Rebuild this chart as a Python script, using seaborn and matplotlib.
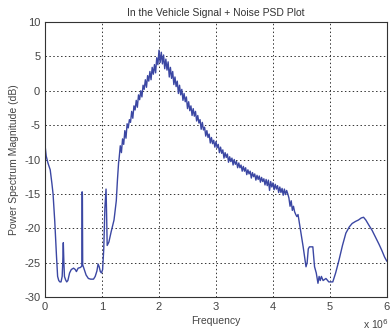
import matplotlib
matplotlib.use("Agg")
import matplotlib.pyplot as plt
import seaborn as sns
import numpy as np
import pandas as pd

title = "In the Vehicle Signal + Noise PSD Plot"
xlabel = "Frequency"
ylabel = "Power Spectrum Magnitude (dB)"
x_ticks = [0, 1, 2, 3, 4, 5, 6]
y_ticks = [-30, -25, -20, -15, -10, -5, 0, 5, 10]

# low-frequency section (x in units of 1e6)
freq_low = [0.00, 0.02, 0.05, 0.09, 0.12, 0.14, 0.17, 0.20, 0.22, 0.24, 0.26, 0.28, 0.30, 0.31, 0.32,
            0.33, 0.34, 0.36, 0.38, 0.40, 0.43, 0.46, 0.50, 0.53, 0.55, 0.58, 0.62, 0.645, 0.65, 0.655,
            0.66, 0.68, 0.72, 0.76, 0.80, 0.85, 0.88, 0.91, 0.93, 0.95, 0.97, 0.99, 1.01, 1.03, 1.05,
            1.07, 1.08, 1.09, 1.12, 1.16, 1.21, 1.25, 1.27, 1.29]
psd_low = [-8.0, -9.5, -10.5, -11.5, -13.5, -15.0, -19.0, -24.0, -27.0, -27.6, -27.8, -27.8, -27.0, -25.0, -22.1,
           -25.0, -27.0, -27.5, -27.8, -27.6, -26.5, -26.0, -25.8, -26.0, -26.3, -25.8, -25.7, -25.5, -14.7, -15.0,
           -25.3, -25.8, -26.8, -27.3, -27.4, -27.4, -27.0, -26.2, -25.2, -25.6, -26.3, -26.5, -26.0, -23.0, -17.0,
           -14.3, -18.0, -22.5, -22.0, -20.5, -18.8, -16.0, -13.0, -10.5]

# noisy main lobe, 1.30 .. 4.48 in steps of 0.02
freq_mid_start = 1.30
psd_mid = [-9.8, -8.0, -9.0, -7.0, -7.8, -5.8, -6.9, -4.8, -5.4, -4.2,
           -4.6, -3.0, -4.0, -2.2, -2.8, -1.4, -2.4, -0.6, -1.3, 0.0,
           -0.9, 0.8, 0.2, 1.6, 0.5, 2.2, 1.4, 2.8, 1.6, 3.4,
           2.4, 3.8, 2.6, 4.8, 3.8, 5.9, 4.1, 5.6, 3.9, 5.2,
           3.2, 4.6, 3.0, 4.2, 2.0, 3.4, 1.8, 2.8, 0.9, 2.0,
           0.6, 1.4, -0.4, 0.8, -0.6, 0.2, -1.4, -0.4, -1.6, -0.9,
           -2.6, -1.6, -2.9, -2.2, -3.6, -2.6, -3.7, -3.0, -4.4, -3.6,
           -4.7, -4.2, -5.6, -4.6, -5.7, -5.3, -6.6, -5.8, -6.8, -6.3,
           -7.6, -6.8, -7.7, -7.2, -8.2, -7.4, -8.3, -7.8, -9.0, -8.2,
           -9.1, -8.6, -9.8, -9.0, -9.7, -9.2, -10.4, -9.6, -10.3, -9.8,
           -10.8, -10.0, -10.7, -10.3, -11.2, -10.5, -11.2, -10.8, -11.7, -11.0,
           -11.7, -11.2, -12.2, -11.5, -12.1, -11.7, -12.7, -11.9, -12.5, -12.1,
           -13.0, -12.3, -12.9, -12.4, -13.3, -12.6, -13.2, -12.8, -13.7, -12.9,
           -13.8, -13.0, -14.5, -13.2, -14.0, -13.4, -14.4, -13.6, -14.3, -13.8,
           -14.8, -14.0, -14.8, -14.2, -15.2, -14.3, -15.1, -14.5, -15.0, -15.6,
           -16.8, -16.0, -17.4, -16.8, -17.6, -18.0, -18.3, -18.0]

# high-frequency section
freq_high = [4.53, 4.58, 4.60, 4.62, 4.64, 4.70, 4.73, 4.76, 4.79, 4.81, 4.83, 4.85, 4.88, 4.93, 4.98,
             5.05, 5.10, 5.16, 5.22, 5.28, 5.34, 5.39, 5.45, 5.50, 5.55, 5.59, 5.63, 5.68, 5.74, 5.80,
             5.86, 5.91, 5.96, 6.00]
psd_high = [-22.7, -25.6, -25.0, -23.0, -22.7, -22.7, -25.6, -26.5, -28.0, -27.0, -27.6, -27.0, -27.6, -27.3, -27.8,
            -27.8, -26.5, -24.6, -22.5, -20.7, -19.8, -19.3, -19.0, -18.8, -18.5, -18.4, -18.8, -19.5, -20.3, -21.3,
            -22.3, -23.2, -24.2, -24.8]

freq_mid = [round(freq_mid_start + 0.02 * i, 2) for i in range(len(psd_mid))]
freq = freq_low + freq_mid + freq_high
psd = psd_low + psd_mid + psd_high
df = pd.DataFrame({"Frequency": freq, "PSD": psd})

sns.set_style("white")
plt.rcParams['font.family'] = ['Liberation Sans', 'DejaVu Sans']

fig = plt.figure(figsize=(3.92, 3.33), dpi=100)
ax = fig.add_axes([0.115, 0.108, 0.872, 0.826])
sns.lineplot(data=df, x="Frequency", y="PSD", sort=False, estimator=None,
             color="#3b47a3", linewidth=1.0, ax=ax)

ax.set_xlim(0, 6)
ax.set_ylim(-30, 10)
ax.set_xticks(x_ticks)
ax.set_yticks(y_ticks)
ax.set_xticklabels([str(t) for t in x_ticks])
ax.set_yticklabels([str(t) for t in y_ticks])
ax.grid(True, linestyle=(0, (1.5, 2.5)), color="#333333", linewidth=0.7)
ax.tick_params(direction="in", length=3, labelsize=8, colors="#444444", width=0.7)
for s in ax.spines.values():
    s.set_color("#333333")
    s.set_linewidth(0.8)
ax.set_title(title, fontsize=7.5, color="#333333", pad=4)
ax.set_xlabel(xlabel, fontsize=7.5, color="#444444", labelpad=3)
ax.set_ylabel(ylabel, fontsize=7.5, color="#444444", labelpad=4)
fig.text(0.925, 0.012, r"x 10$^6$", fontsize=7.5, color="#444444")

fig.savefig("out.png", dpi=100)
